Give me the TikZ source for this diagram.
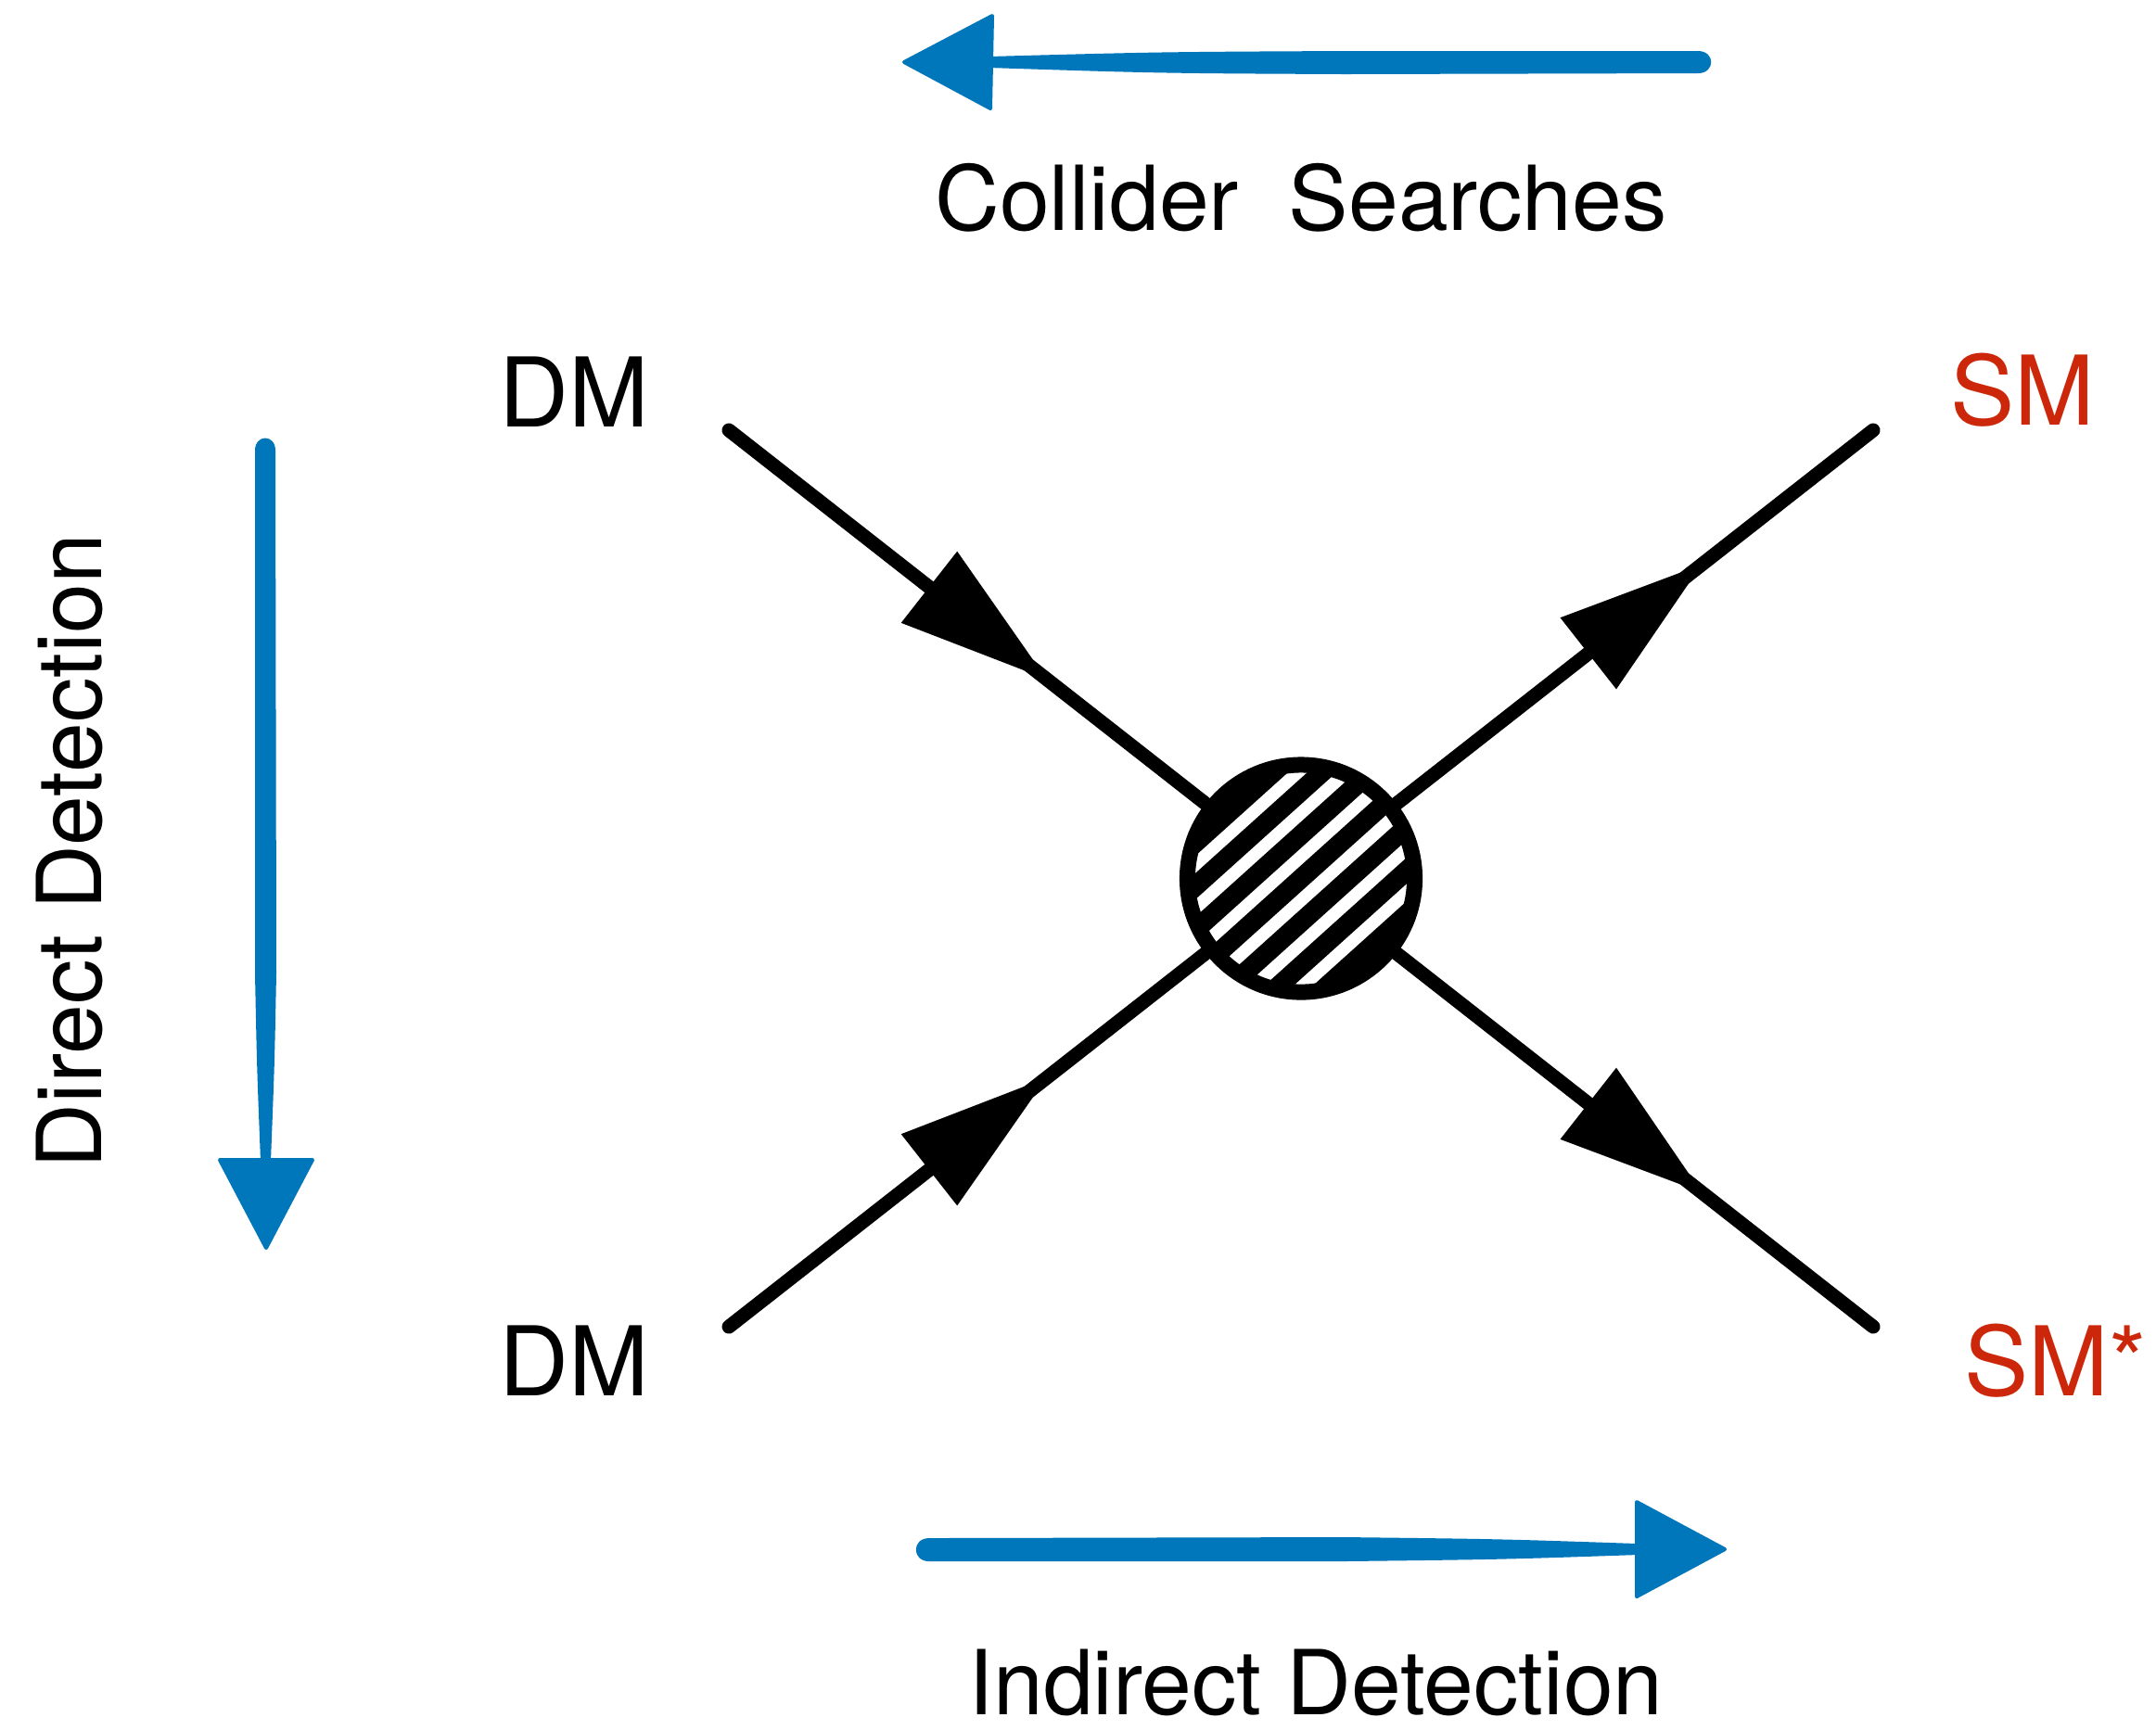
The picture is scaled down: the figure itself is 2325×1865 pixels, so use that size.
\documentclass[tikz,border=0pt]{standalone}
\usepackage{fontspec}
\setmainfont{TeX Gyre Heros}
\usetikzlibrary{calc}
\definecolor{brushblue}{RGB}{0,118,187}
\definecolor{smred}{RGB}{204,39,10}
\newcommand\fermionhead[4]{%
  \fill[black] ($(#1)!#3!(#2)!0.49cm!90:(#2)$) -- ($(#1)!#3!(#2)!0.49cm!-90:(#2)$) -- ($(#1)!#4!(#2)$) -- cycle;}
\begin{document}
\begin{tikzpicture}[x=0.01cm,y=-0.01cm,
  lbl/.style={font=\fontsize{27.5}{33}\selectfont, inner sep=0pt, anchor=base},
  part/.style={font=\fontsize{29.5}{35}\selectfont, inner sep=0pt, anchor=base},
  fline/.style={line width=0.15cm, line cap=round, black},
  brushhead/.style={fill=brushblue, draw=brushblue, line width=0.04cm, line join=round},
  blob/.style={circle, draw=black, line width=0.17cm, fill=white, minimum size=2.45cm, inner sep=0pt,
    path picture={
      \begin{scope}[shift={(path picture bounding box.center)}]
        \foreach \k in {-3,...,3}{
          \draw[black, line width=0.21cm, line cap=butt]
            ({\k*23.4-111.5},{\k*26.0+100.4}) -- ({\k*23.4+111.5},{\k*26.0-100.4});}
      \end{scope}}},
]
\useasboundingbox (0,0) rectangle (2325,1865);
\fill[white] (0,0) rectangle (2325,1865);

% ---- brush arrows ----
% top: leftwards (Collider Searches)
\fill[brushblue] (1066,61) .. controls (1250,56) .. (1450,55) -- (1831,55)
  .. controls (1850,55) and (1850,79) .. (1831,79) -- (1450,80)
  .. controls (1250,79) .. (1066,73) -- cycle;
\filldraw[brushhead] (1070,17) -- (975,67) -- (1068,117) -- cycle;
% left: downwards (Direct Detection)
\fill[brushblue] (275,486) .. controls (275,468) and (297,468) .. (297,486)
  -- (298,1050) .. controls (296,1150) .. (292,1252) -- (281,1252)
  .. controls (277,1150) .. (275,1050) -- cycle;
\filldraw[brushhead] (237,1251) -- (337,1251) -- (287,1346) -- cycle;
% bottom: rightwards (Indirect Detection)
\fill[brushblue] (1002,1659) -- (1450,1658) .. controls (1620,1660) .. (1766,1665)
  -- (1766,1677) .. controls (1620,1682) .. (1450,1684) -- (1002,1684)
  .. controls (983,1684) and (983,1659) .. (1002,1659) -- cycle;
\filldraw[brushhead] (1765,1620) -- (1860,1671) -- (1765,1722) -- cycle;

% ---- labels ----
\node[lbl] (collider) at (1403,248) {Collider\ \ Searches};
\node[lbl] (indirect) at (1419,1849) {Indirect Detection};
\node[lbl, rotate=90] (direct) at (109,918) {Direct Detection};
\node[part] (dmtop) at (619,460) {DM};
\node[part] (dmbot) at (619,1505) {DM};
\node[part, text=smred] (smtop) at (2181,458) {SM};
\node[part, text=smred, anchor=base west] (smbot) at (2118,1505) {SM*};

% ---- Feynman diagram ----
\coordinate (a1) at (786,464);
\coordinate (a2) at (2020,464);
\coordinate (a3) at (786,1431);
\coordinate (a4) at (2020,1431);
\node[blob] (v) at (1403,947.5) {};
\draw[fline] (a1) -- (v);
\draw[fline] (v) -- (a2);
\draw[fline] (a3) -- (v);
\draw[fline] (v) -- (a4);
\fermionhead{a1}{v.center}{0.35}{0.555}
\fermionhead{v.center}{a2}{0.502}{0.70}
\fermionhead{a3}{v.center}{0.35}{0.555}
\fermionhead{v.center}{a4}{0.502}{0.70}
\end{tikzpicture}
\end{document}
